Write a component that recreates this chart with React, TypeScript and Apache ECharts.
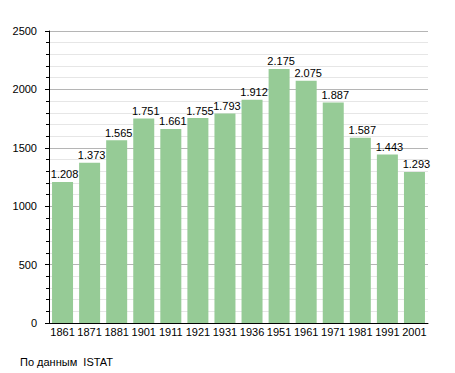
import React, { useEffect, useRef } from "react";
import * as echarts from "echarts";

const years = ["1861", "1871", "1881", "1901", "1911", "1921", "1931", "1936", "1951", "1961", "1971", "1981", "1991", "2001"];
const population = [1208, 1373, 1565, 1751, 1661, 1755, 1793, 1912, 2175, 2075, 1887, 1587, 1443, 1293];
const sourceNote = "По данным  ISTAT";

const fmt = (v: number) => {
  const s = String(v);
  return s.length > 3 ? s.slice(0, s.length - 3) + "." + s.slice(s.length - 3) : s;
};

export default function App() {
  const ref = useRef<HTMLDivElement>(null);
  useEffect(() => {
    if (!ref.current) return;
    const chart = echarts.init(ref.current, undefined, { renderer: "svg" });
    const font = "Liberation Sans, Arial, sans-serif";
    chart.setOption({
      animation: false,
      backgroundColor: "#fff",
      textStyle: { fontFamily: font },
      grid: { left: 49, right: 27, top: 31, bottom: 50 },
      xAxis: {
        type: "category",
        data: years,
        axisTick: { show: false },
        axisLine: { lineStyle: { color: "#000", width: 1 } },
        axisLabel: { color: "#000", fontSize: 11, margin: 3, interval: 0, fontFamily: font },
        splitLine: { show: false },
      },
      yAxis: {
        type: "value",
        min: 0,
        max: 2500,
        interval: 500,
        axisLine: { show: true, lineStyle: { color: "#000", width: 1 } },
        axisTick: { show: true, length: 4, lineStyle: { color: "#000" } },
        minorTick: { show: true, splitNumber: 5, length: 3, lineStyle: { color: "#000" } },
        axisLabel: { color: "#000", fontSize: 11, margin: 12, fontFamily: font, formatter: (v: number) => String(v) },
        splitLine: { show: true, lineStyle: { color: "#b5b5b5", width: 1 } },
        minorSplitLine: { show: true, lineStyle: { color: "#e6e6e6", width: 1 } },
      },
      series: [
        {
          type: "bar",
          data: population,
          barWidth: 21,
          itemStyle: { color: "#96cb96" },
          label: {
            show: true,
            position: "top",
            distance: 2,
            offset: [2, 0],
            color: "#000",
            fontSize: 11,
            fontFamily: font,
            formatter: (p: any) => fmt(p.value),
          },
        },
      ],
      graphic: [
        {
          type: "text",
          left: 20,
          top: 356,
          style: { text: sourceNote, fontSize: 11, fill: "#000", fontFamily: font },
        },
      ],
    });
    return () => chart.dispose();
  }, []);
  return <div ref={ref} style={{ width: 455, height: 373, position: "absolute", left: 0, top: 0 }} />;
}
